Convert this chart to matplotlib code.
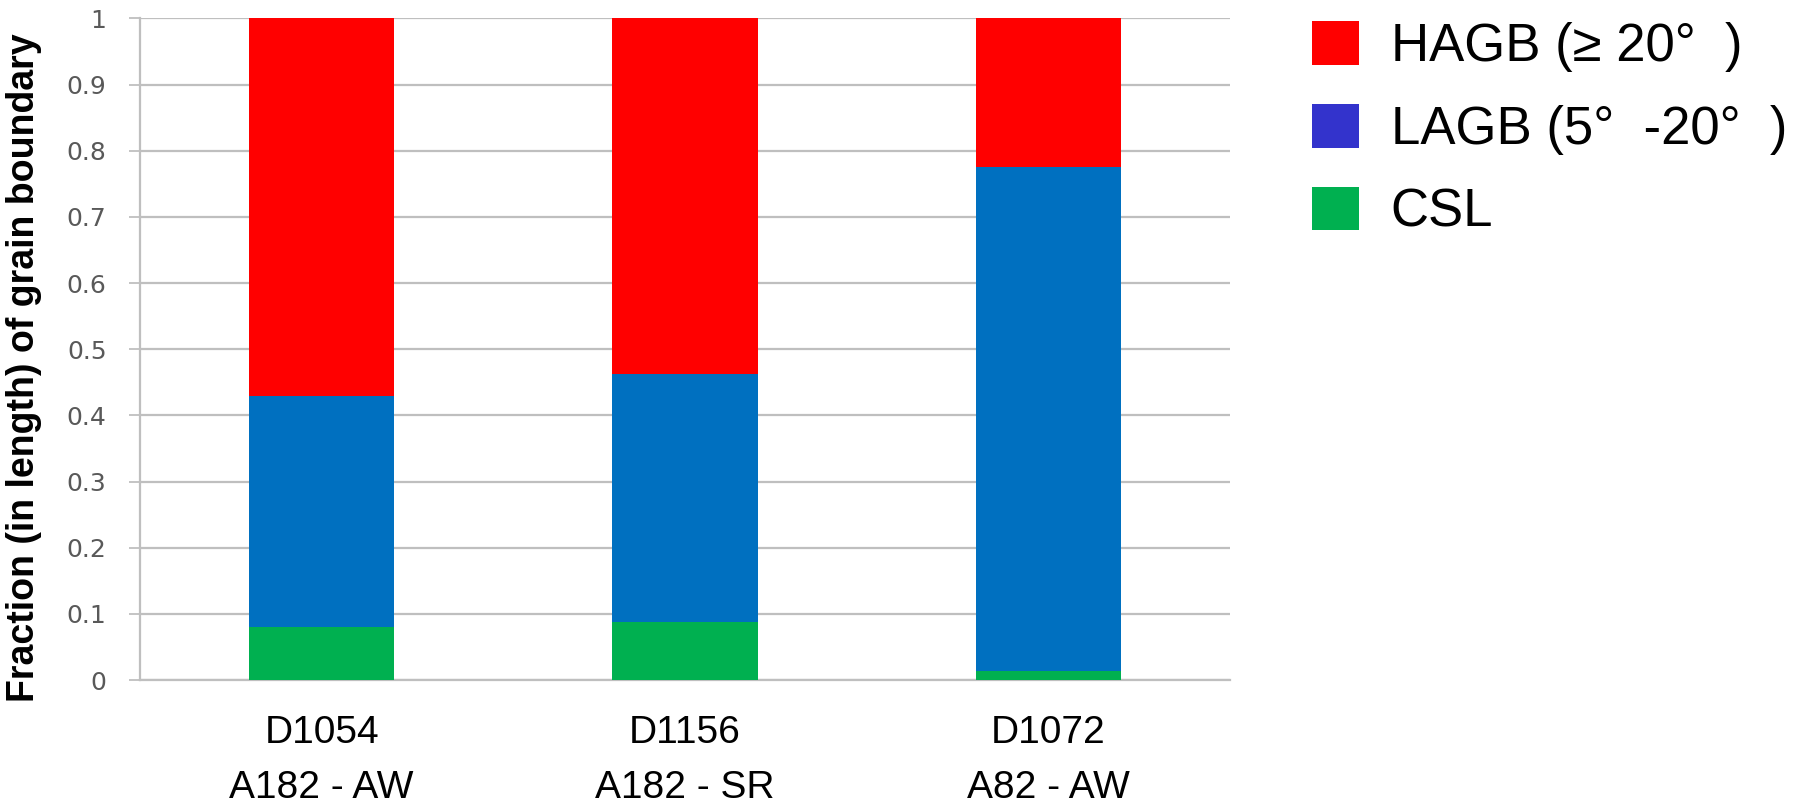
import matplotlib.pyplot as plt
import numpy as np
from matplotlib.patches import Patch

# data
samples = ['D1054\nA182 - AW', 'D1156\nA182 - SR', 'D1072\nA82 - AW']
csl = [0.080, 0.087, 0.013]
lagb = [0.350, 0.375, 0.762]
hagb = [0.570, 0.538, 0.225]
labels = ['HAGB (≥ 20°  )', 'LAGB (5°  -20°  )', 'CSL']
bar_colors = ['#FF0000', '#0070C0', '#00B050']
legend_colors = ['#FF0000', '#3333CC', '#00B050']

plt.rcParams['font.family'] = ['Liberation Sans', 'DejaVu Sans']

fig = plt.figure(figsize=(18.1, 8.02), dpi=100)
ax = fig.add_axes([0.0773, 0.1521, 0.6022, 0.825])

x = np.arange(len(samples))
w = 0.4
ax.bar(x, csl, w, color=bar_colors[2], zorder=3)
ax.bar(x, lagb, w, bottom=csl, color=bar_colors[1], zorder=3)
ax.bar(x, hagb, w, bottom=np.array(csl) + np.array(lagb), color=bar_colors[0], zorder=3)

ax.set_xlim(-0.5, 2.5)
ax.set_ylim(0, 1)
ax.set_yticks(np.arange(0, 1.01, 0.1))
ax.set_yticklabels(['0', '0.1', '0.2', '0.3', '0.4', '0.5', '0.6', '0.7', '0.8', '0.9', '1'],
                   fontfamily='DejaVu Sans', fontsize=18, color='#595959')
ax.set_xticks(x)
ax.set_xticklabels(samples, fontsize=28, linespacing=1.7)
ax.tick_params(axis='x', length=0, pad=25)
ax.tick_params(axis='y', length=8, width=1.3, color='#BFBFBF', pad=16)

ax.yaxis.grid(True, color='#BFBFBF', lw=1.6, zorder=0)
ax.set_axisbelow(True)
for s in ['top', 'right']:
    ax.spines[s].set_visible(False)
ax.spines['left'].set_color('#BFBFBF')
ax.spines['left'].set_linewidth(1.6)
ax.spines['bottom'].set_color('#BFBFBF')
ax.spines['bottom'].set_linewidth(1.6)

ax.set_ylabel('Fraction (in length) of grain boundary', fontsize=27, fontweight='bold',
              fontfamily=['Liberation Sans Narrow', 'Liberation Sans'])
ax.yaxis.set_label_coords(-0.09, 0.472)

handles = [Patch(facecolor=c, edgecolor='none') for c in legend_colors]
fig.legend(handles, labels, loc='upper left', bbox_to_anchor=(0.713, 1.0), frameon=False,
           fontsize=38, handlelength=0.9, handleheight=0.9, handletextpad=0.6,
           labelspacing=0.6, borderaxespad=0)

fig.savefig('out.png', dpi=100)
